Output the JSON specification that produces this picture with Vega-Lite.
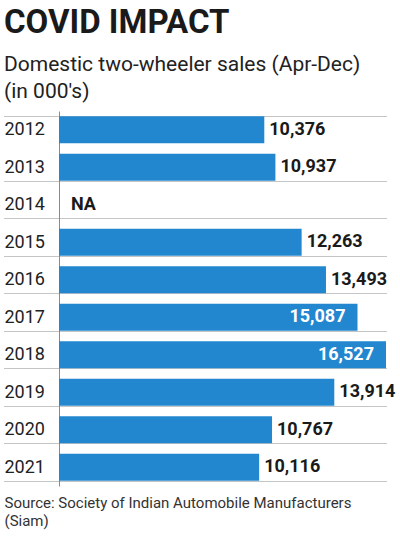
{
  "$schema": "https://vega.github.io/schema/vega-lite/v6.json",
  "autosize": "none",
  "width": 327,
  "height": 375,
  "padding": {"left": 59, "top": 111, "right": 14, "bottom": 57},
  "background": "white",
  "config": {"view": {"stroke": null}},
  "title": {
    "text": "COVID IMPACT",
    "subtitle": ["Domestic two-wheeler sales  (Apr-Dec)", "(in 000's)"],
    "anchor": "start",
    "frame": "group",
    "dx": -55,
    "font": "Roboto",
    "fontSize": 33,
    "fontWeight": "bold",
    "color": "#1a1a1a",
    "subtitleFont": "Roboto",
    "subtitleFontSize": 21,
    "subtitleColor": "#222222",
    "subtitleLineHeight": 27,
    "subtitlePadding": 14,
    "offset": 0
  },
  "data": {
    "values": [
      {"year": "2012", "sales": 10376, "label": "10,376"},
      {"year": "2013", "sales": 10937, "label": "10,937"},
      {"year": "2014", "sales": null, "label": "NA"},
      {"year": "2015", "sales": 12263, "label": "12,263"},
      {"year": "2016", "sales": 13493, "label": "13,493"},
      {"year": "2017", "sales": 15087, "label": "15,087"},
      {"year": "2018", "sales": 16527, "label": "16,527"},
      {"year": "2019", "sales": 13914, "label": "13,914"},
      {"year": "2020", "sales": 10767, "label": "10,767"},
      {"year": "2021", "sales": 10116, "label": "10,116"}
    ]
  },
  "encoding": {
    "y": {
      "field": "year",
      "type": "nominal",
      "sort": null,
      "scale": {
        "domain": ["2012", "2013", "2014", "2015", "2016", "2017", "2018", "2019", "2020", "2021"],
        "paddingInner": 0.28,
        "paddingOuter": 0.14
      },
      "axis": {
        "title": null,
        "domain": true,
        "domainColor": "#8a8a8a",
        "domainWidth": 1,
        "ticks": true,
        "tickSize": 55,
        "tickBand": "extent",
        "tickDash": [1, 1],
        "tickColor": "#8a8a8a",
        "tickOpacity": {"condition": {"test": "datum.index == 0", "value": 0}, "value": 1},
        "grid": true,
        "gridDash": [1, 1],
        "gridColor": "#8a8a8a",
        "gridOpacity": {"condition": {"test": "datum.index == 0", "value": 0}, "value": 1},
        "labelPadding": 0,
        "labelAlign": "left",
        "labelBaseline": "middle",
        "labelFont": "Roboto",
        "labelFontSize": 18,
        "labelColor": "#222222"
      }
    }
  },
  "layer": [
    {
      "mark": {"type": "bar", "color": "#2387d0"},
      "encoding": {
        "x": {
          "field": "sales",
          "type": "quantitative",
          "scale": {"domain": [0, 16527], "nice": false},
          "axis": {
            "labels": false,
            "ticks": false,
            "domain": false,
            "grid": false,
            "title": ["Source: Society of Indian Automobile Manufacturers", "(Siam)"],
            "titleAnchor": "start",
            "titleAlign": "left",
            "titleBaseline": "top",
            "titleX": -55,
            "titleY": 9,
            "titleFont": "Roboto",
            "titleFontSize": 15,
            "titleFontWeight": "normal",
            "titleColor": "#333333",
            "titleLineHeight": 18
          }
        }
      }
    },
    {
      "transform": [{"filter": "datum.label != 'NA' && datum.sales < 15000"}],
      "mark": {
        "type": "text",
        "align": "left",
        "baseline": "middle",
        "dx": 5,
        "font": "Roboto",
        "fontSize": 18,
        "fontWeight": "bold",
        "color": "#1a1a1a"
      },
      "encoding": {"x": {"field": "sales", "type": "quantitative"}, "text": {"field": "label"}}
    },
    {
      "transform": [{"filter": "datum.label != 'NA' && datum.sales >= 15000"}],
      "mark": {
        "type": "text",
        "align": "right",
        "baseline": "middle",
        "dx": -12,
        "font": "Roboto",
        "fontSize": 18,
        "fontWeight": "bold",
        "color": "white"
      },
      "encoding": {"x": {"field": "sales", "type": "quantitative"}, "text": {"field": "label"}}
    },
    {
      "transform": [{"filter": "datum.label == 'NA'"}],
      "mark": {
        "type": "text",
        "align": "left",
        "baseline": "middle",
        "dx": 12,
        "font": "Roboto",
        "fontSize": 18,
        "fontWeight": "bold",
        "color": "#1a1a1a"
      },
      "encoding": {"x": {"datum": 0, "type": "quantitative"}, "text": {"field": "label"}}
    }
  ]
}
